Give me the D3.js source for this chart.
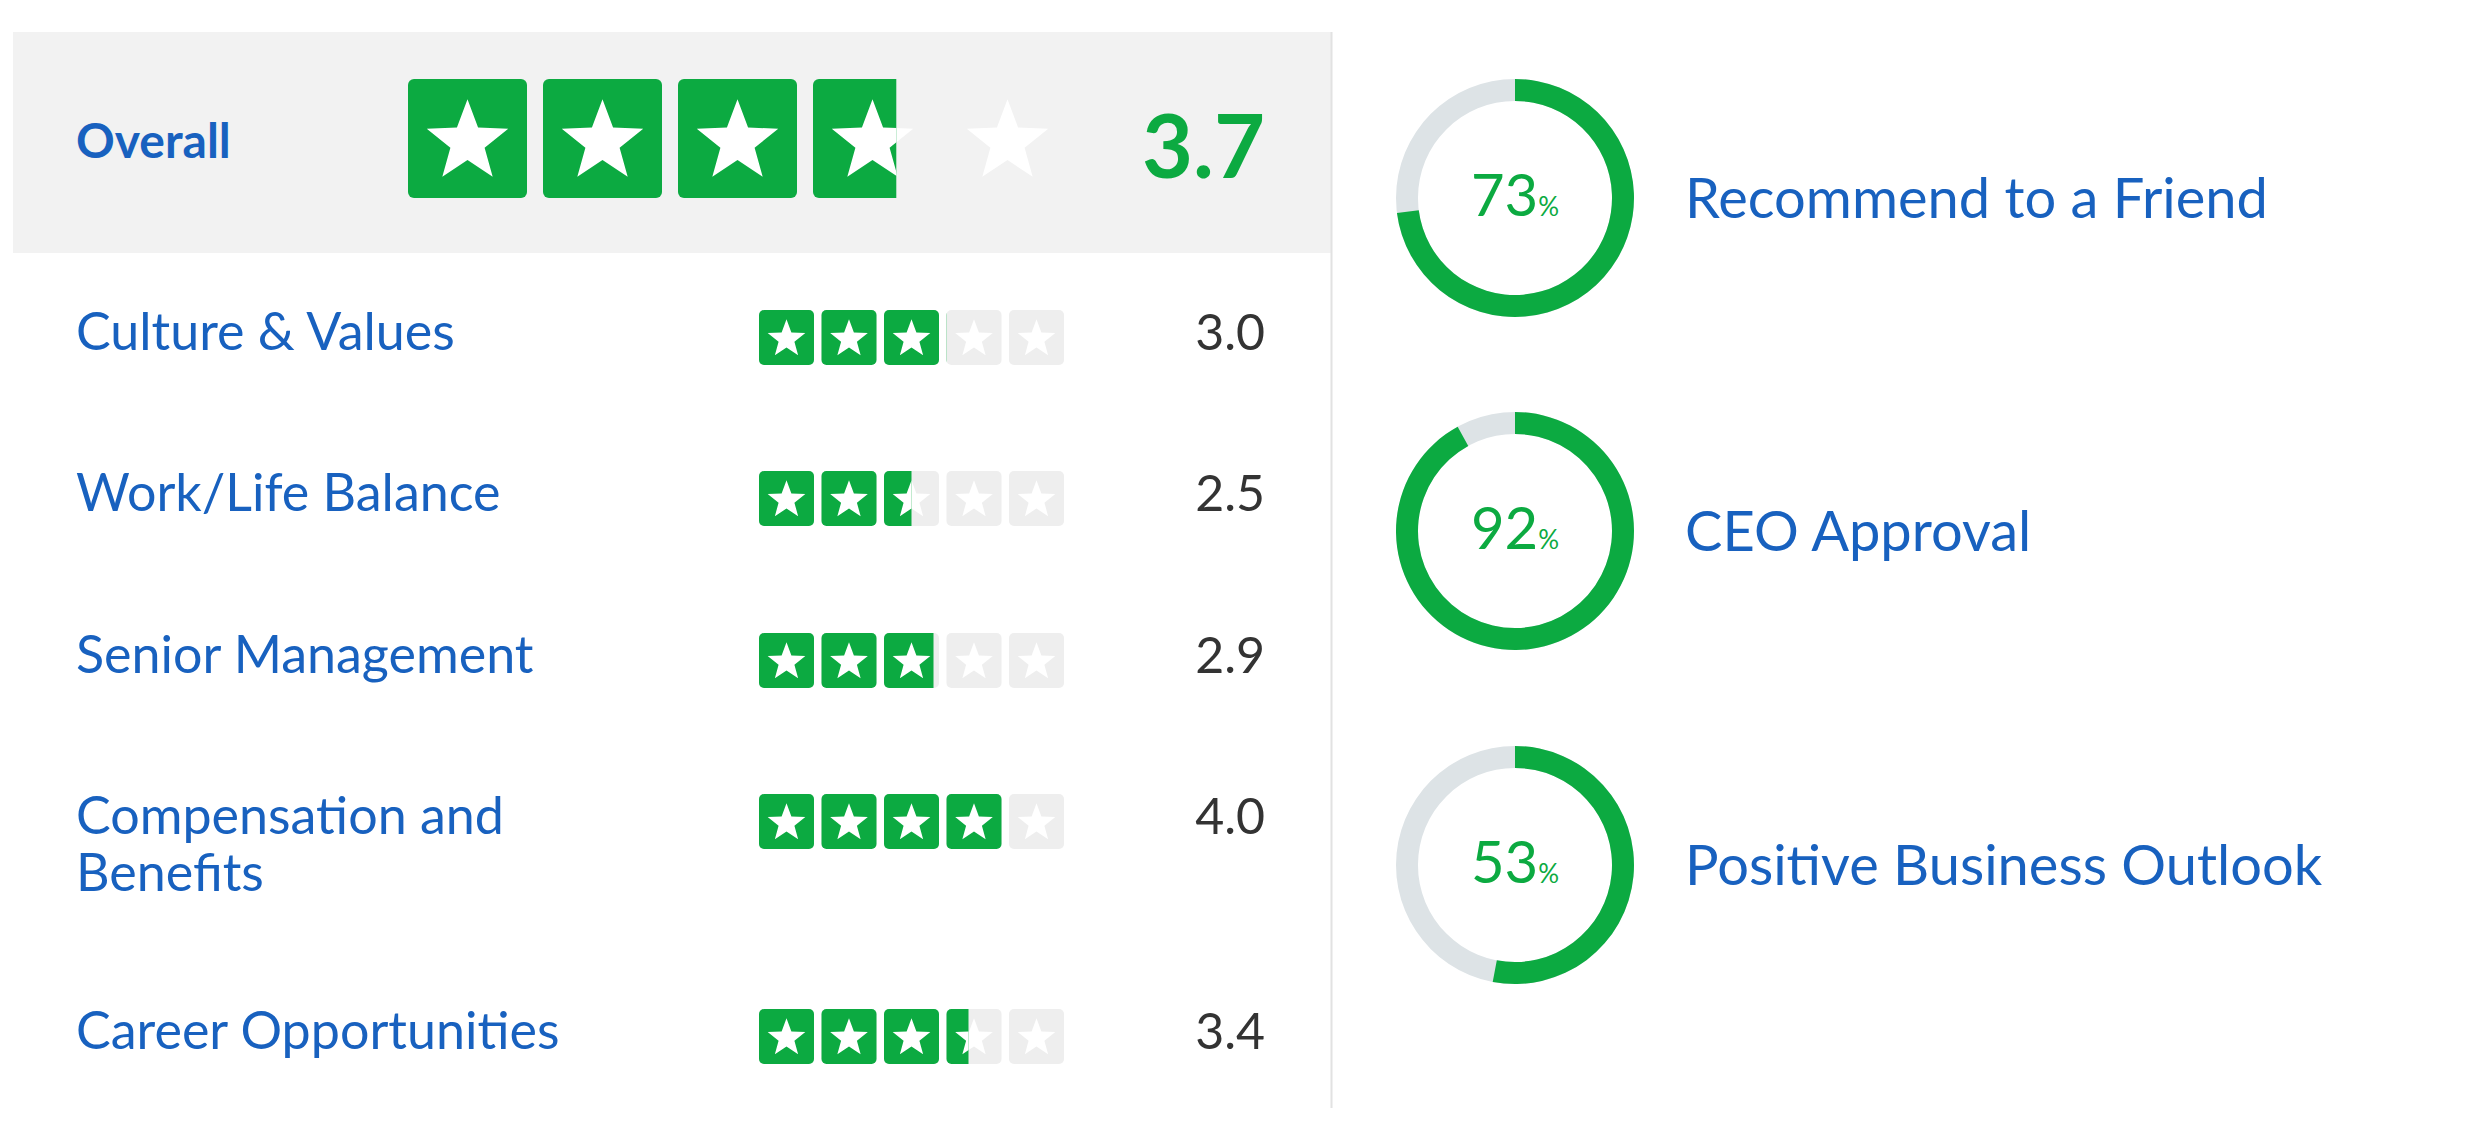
<!DOCTYPE html><html><head><meta charset="utf-8">
<script src="https://cdn.jsdelivr.net/npm/d3@7"></script>
<style>body{margin:0;background:#fff}svg{display:block}</style></head><body>
<script>
const categories=["Culture & Values","Work/Life Balance","Senior Management","Compensation and Benefits","Career Opportunities"];
const ratings=[3.0,2.5,2.9,4.0,3.4];
const overallLabel="Overall", overall=3.7;
const pctLabels=["Recommend to a Friend","CEO Approval","Positive Business Outlook"];
const pctValues=[73,92,53];

const W=2479,H=1146,GREEN="#0caa41",BLUE="#1861bf",FONT="Lato, 'Open Sans', sans-serif";
const svg=d3.select("body").append("svg").attr("width",W).attr("height",H);
const defs=svg.append("defs");

function starPath(cx,cy,R){
  const pts=d3.range(10).map(i=>{const r=i%2?R*0.42:R;const a=-Math.PI/2+i*Math.PI/5;return [cx+r*Math.cos(a),cy+r*Math.sin(a)];});
  return d3.line()(pts)+"Z";
}
function drawStars(g,id,value,x0,y0,size,step,emptyBox,rx){
  const sx=d3.scaleLinear().domain([0,5]).range([x0,x0+step*5]);
  const idx=d3.range(5);
  if(emptyBox) g.selectAll(null).data(idx).join("rect").attr("x",i=>sx(i)).attr("y",y0).attr("width",size).attr("height",size).attr("rx",rx).attr("fill","#eeeeee");
  g.selectAll(null).data(idx).join("path").attr("d",i=>starPath(sx(i)+size/2,y0+size*0.53,size*0.36)).attr("fill","#fff");
  const full=Math.floor(value),frac=value-full;
  const clipW=sx(full)+frac*size-x0;
  defs.append("clipPath").attr("id",id).append("rect").attr("x",x0).attr("y",y0-5).attr("width",clipW).attr("height",size+10);
  const cg=g.append("g").attr("clip-path",`url(#${id})`);
  cg.selectAll(null).data(idx).join("rect").attr("x",i=>sx(i)).attr("y",y0).attr("width",size).attr("height",size).attr("rx",rx).attr("fill",GREEN);
  cg.selectAll(null).data(idx).join("path").attr("d",i=>starPath(sx(i)+size/2,y0+size*0.53,size*0.36)).attr("fill","#fff");
}

// overall panel
svg.append("rect").attr("x",13).attr("y",32).attr("width",1318).attr("height",221).attr("fill","#f2f2f2");
svg.append("line").attr("x1",1331.5).attr("x2",1331.5).attr("y1",32).attr("y2",1108).attr("stroke","#e2e2e2").attr("stroke-width",2);
svg.append("text").attr("x",76).attr("y",158).text(overallLabel).attr("font-family",FONT).attr("font-weight",700).attr("font-size",48).attr("fill",BLUE);
drawStars(svg.append("g"),"c0",overall,408,79,119,135,false,6);
svg.append("text").attr("x",1265).attr("y",178).attr("text-anchor","end").text(overall.toFixed(1)).attr("font-family",FONT).attr("font-weight",700).attr("font-size",88).attr("fill",GREEN);

// rows
const rowY=[332,493,655,816,1031];
categories.forEach((c,i)=>{
  const g=svg.append("g");
  const t=g.append("text").attr("font-family",FONT).attr("font-size",52).attr("fill",BLUE);
  if(c==="Compensation and Benefits"){
    t.append("tspan").attr("x",76).attr("y",rowY[i]+18).text("Compensation and");
    t.append("tspan").attr("x",76).attr("y",rowY[i]+75).text("Benefits");
  } else t.attr("x",76).attr("y",rowY[i]+18).text(c);
  drawStars(g,"c"+(i+1),ratings[i],759,rowY[i]-22,55,62.5,true,5);
  g.append("text").attr("x",1265).attr("y",rowY[i]+18).attr("text-anchor","end").text(ratings[i].toFixed(1)).attr("font-family",FONT).attr("font-size",50).attr("fill","#333");
});

// donuts
const cy=[198,531,865], R=119, th=22;
const arc=d3.arc().innerRadius(R-th).outerRadius(R);
const ang=d3.scaleLinear().domain([0,100]).range([0,2*Math.PI]);
pctValues.forEach((v,i)=>{
  const g=svg.append("g").attr("transform",`translate(1515,${cy[i]})`);
  g.append("path").attr("d",arc({startAngle:0,endAngle:2*Math.PI})).attr("fill","#dde3e6");
  g.append("path").attr("d",arc({startAngle:0,endAngle:ang(v)})).attr("fill",GREEN);
  const t=g.append("text").attr("text-anchor","middle").attr("y",18).attr("font-family",FONT).attr("fill",GREEN);
  t.append("tspan").attr("font-size",58).text(v);
  t.append("tspan").attr("font-size",26).text("%");
  svg.append("text").attr("x",1685).attr("y",cy[i]+20).text(pctLabels[i]).attr("font-family",FONT).attr("font-size",56).attr("fill",BLUE);
});
</script></body></html>
